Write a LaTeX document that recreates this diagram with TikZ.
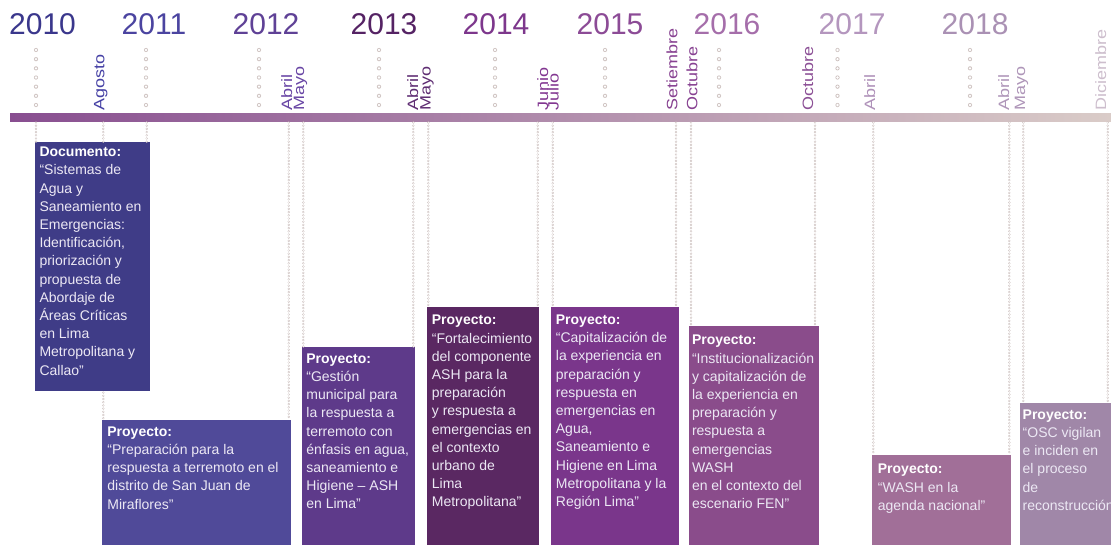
\documentclass[tikz,border=0pt]{standalone}
\usepackage{fontspec}
\setmainfont{Liberation Sans}
\usepackage{graphicx}
\definecolor{barL}{RGB}{136,78,144}
\definecolor{barM}{RGB}{168,118,168}
\definecolor{barR}{RGB}{218,204,200}
\definecolor{ringc}{RGB}{206,194,192}
\definecolor{bodytxt}{RGB}{236,232,244}
\definecolor{cb1}{RGB}{63,60,135}
\definecolor{cb2}{RGB}{80,74,153}
\definecolor{cb3}{RGB}{94,58,138}
\definecolor{cb4}{RGB}{90,40,98}
\definecolor{cb5}{RGB}{122,54,139}
\definecolor{cb6}{RGB}{138,76,139}
\definecolor{cb7}{RGB}{161,111,152}
\definecolor{cb8}{RGB}{160,135,168}
\definecolor{y10}{RGB}{58,55,140}
\definecolor{y11}{RGB}{75,68,160}
\definecolor{y12}{RGB}{95,65,150}
\definecolor{y13}{RGB}{85,35,100}
\definecolor{y14}{RGB}{125,55,140}
\definecolor{y15}{RGB}{140,75,150}
\definecolor{y16}{RGB}{165,110,170}
\definecolor{y17}{RGB}{180,150,190}
\definecolor{y18}{RGB}{170,145,180}
\definecolor{m1}{RGB}{70,65,165}
\definecolor{m2}{RGB}{105,70,165}
\definecolor{m3}{RGB}{95,45,115}
\definecolor{m4}{RGB}{130,55,145}
\definecolor{m5}{RGB}{135,65,145}
\definecolor{m6}{RGB}{140,80,150}
\definecolor{m7}{RGB}{175,145,185}
\definecolor{m8}{RGB}{175,150,185}
\definecolor{m9}{RGB}{205,190,205}
\newcommand{\mlab}[1]{\scalebox{1.2}[1]{#1}}
\begin{document}
\begin{tikzpicture}[x=1pt,y=-1pt,
  yearlab/.style={anchor=base west, inner sep=0pt, font=\fontsize{30}{30}\selectfont},
  monthlab/.style={rotate=90, anchor=base west, inner sep=0pt, font=\fontsize{15}{15}\selectfont},
  ydots/.style={draw=white, line width=2.6pt, dash pattern=on 0pt off 9.17pt, line cap=round,
     preaction={draw=ringc, line width=4.2pt, dash pattern=on 0pt off 9.17pt, line cap=round}},
  ringline/.style={draw=white, line width=1.0pt, dash pattern=on 0pt off 3.2pt, line cap=round,
     preaction={draw=ringc, line width=2.4pt, dash pattern=on 0pt off 3.2pt, line cap=round}},
  boxs/.style={anchor=north west, inner sep=0pt, draw=none},
  btxt/.style={anchor=north west, inner sep=0pt, align=left, text=bodytxt,
     font=\fontsize{14}{18.2}\selectfont}
]
\useasboundingbox (0,0) rectangle (1111,545);
\clip (0,0) rectangle (1111,545);
\fill[white] (0,0) rectangle (1111,545);

% timeline bar
\node[boxs, minimum width=1101pt, minimum height=8pt, left color=barL, middle color=barM, right color=barR] (bar) at (10,113) {};

% years
\node[yearlab, text=y10] (y2010) at (9,34.5) {2010};
\node[yearlab, text=y11] (y2011) at (121.5,34.5) {2011};
\node[yearlab, text=y12] (y2012) at (232.5,34.5) {2012};
\node[yearlab, text=y13] (y2013) at (350.5,34.5) {2013};
\node[yearlab, text=y14] (y2014) at (462.5,34.5) {2014};
\node[yearlab, text=y15] (y2015) at (576.5,34.5) {2015};
\node[yearlab, text=y16] (y2016) at (693.5,34.5) {2016};
\node[yearlab, text=y17] (y2017) at (818.5,34.5) {2017};
\node[yearlab, text=y18] (y2018) at (941.5,34.5) {2018};

% year dots
\foreach \n/\x in {d10/36, d11/146, d12/259, d13/379, d14/495, d15/605, d16/719, d17/837.5, d18/970}{
  \coordinate (\n) at (\x,50);
  \draw[ydots] (\n) -- ++(0,55.1);
}

% month labels
\node[monthlab, text=m1] (ago10) at (104.3,110.5) {\mlab{Agosto}};
\node[monthlab, text=m2] (abr12) at (292,110.5) {\mlab{Abril}};
\node[monthlab, text=m2] (may12) at (304,110.5) {\mlab{Mayo}};
\node[monthlab, text=m3] (abr13) at (418,110.5) {\mlab{Abril}};
\node[monthlab, text=m3] (may13) at (430.5,110.5) {\mlab{Mayo}};
\node[monthlab, text=m4] (jun14) at (548.2,110.5) {\mlab{Junio}};
\node[monthlab, text=m4] (jul14) at (558.7,110.5) {\mlab{Julio}};
\node[monthlab, text=m5] (set15) at (677.4,110.5) {\mlab{Setiembre}};
\node[monthlab, text=m5] (oct15) at (697.4,110.5) {\mlab{Octubre}};
\node[monthlab, text=m6] (oct16) at (813,110.5) {\mlab{Octubre}};
\node[monthlab, text=m7] (abr17) at (875,110.5) {\mlab{Abril}};
\node[monthlab, text=m8] (abr18) at (1009,110.5) {\mlab{Abril}};
\node[monthlab, text=m8] (may18) at (1025,110.5) {\mlab{Mayo}};
\node[monthlab, text=m9] (dic18) at (1106,110.5) {\mlab{Diciembre}};

% boxes
\node[boxs, fill=cb1, minimum width=115pt, minimum height=248.4pt] (b1) at (34.3,142.3) {};
\node[boxs, fill=cb2, minimum width=189pt, minimum height=130pt] (b2) at (101.7,420) {};
\node[boxs, fill=cb3, minimum width=113.3pt, minimum height=205pt] (b3) at (301.7,346.7) {};
\node[boxs, fill=cb4, minimum width=112.3pt, minimum height=245pt] (b4) at (426.7,307.3) {};
\node[boxs, fill=cb5, minimum width=127.6pt, minimum height=245pt] (b5) at (550.7,307) {};
\node[boxs, fill=cb6, minimum width=130pt, minimum height=225pt] (b6) at (688.3,326) {};
\node[boxs, fill=cb7, minimum width=139.3pt, minimum height=95pt] (b7) at (871.7,455) {};
\node[boxs, fill=cb8, minimum width=100pt, minimum height=150pt] (b8) at (1020,402.7) {};

% connectors from the bar to the boxes
\foreach \n/\x in {a1/36, a2/103.3, a3/146.7, a4/288.7, a5/303.3, a6/413.3, a7/428.3, a8/537.7,
  a9/552.7, a10/676, a11/691, a12/815, a13/873.3, a14/1009.3, a15/1023.3, a16/1107.7}{
  \coordinate (\n) at (\x,122.5);
}
\draw[ringline] (a1) -- (a1 |- b1.north);
\draw[ringline] (a2) -- (a2 |- b1.north);
\draw[ringline] (a3) -- (a3 |- b1.north);
\draw[ringline] ([yshift=-1.5pt]a2 |- b1.south) -- (a2 |- b2.north);
\draw[ringline] (a4) -- (a4 |- b2.north);
\draw[ringline] (a5) -- (a5 |- b3.north);
\draw[ringline] (a6) -- (a6 |- b3.north);
\draw[ringline] (a7) -- (a7 |- b4.north);
\draw[ringline] (a8) -- (a8 |- b4.north);
\draw[ringline] (a9) -- (a9 |- b5.north);
\draw[ringline] (a10) -- (a10 |- b5.north);
\draw[ringline] (a11) -- (a11 |- b6.north);
\draw[ringline] (a12) -- (a12 |- b6.north);
\draw[ringline] (a13) -- (a13 |- b7.north);
\draw[ringline] (a14) -- (a14 |- b7.north);
\draw[ringline] (a15) -- (a15 |- b8.north);
\draw[ringline] (a16) -- (a16 |- b8.north);

% box texts
\node[btxt] (t1) at ([xshift=5pt,yshift=-4.5pt]b1.north west) {\textcolor{white}{\bfseries Documento:}\\“Sistemas de\\Agua y\\Saneamiento en\\Emergencias:\\Identificación,\\priorización y\\propuesta de\\Abordaje de\\Áreas Críticas\\en Lima\\Metropolitana y\\Callao”};
\node[btxt] (t2) at ([xshift=5.5pt,yshift=-6.5pt]b2.north west) {\textcolor{white}{\bfseries Proyecto:}\\“Preparación para la\\respuesta a terremoto en el\\distrito de San Juan de\\Miraflores”};
\node[btxt] (t3) at ([xshift=4.5pt,yshift=-6.7pt]b3.north west) {\textcolor{white}{\bfseries Proyecto:}\\“Gestión\\municipal para\\la respuesta a\\terremoto con\\énfasis en agua,\\saneamiento e\\Higiene – ASH\\en Lima”};
\node[btxt] (t4) at ([xshift=5pt,yshift=-7.7pt]b4.north west) {\textcolor{white}{\bfseries Proyecto:}\\“Fortalecimiento\\del componente\\ASH para la\\preparación\\y respuesta a\\emergencias en\\el contexto\\urbano de\\Lima\\Metropolitana”};
\node[btxt] (t5) at ([xshift=5pt,yshift=-7.7pt]b5.north west) {\textcolor{white}{\bfseries Proyecto:}\\“Capitalización de\\la experiencia en\\preparación y\\respuesta en\\emergencias en\\Agua,\\Saneamiento e\\Higiene en Lima\\Metropolitana y la\\Región Lima”};
\node[btxt] (t6) at ([xshift=3.5pt,yshift=-9pt]b6.north west) {\textcolor{white}{\bfseries Proyecto:}\\“Institucionalización\\y capitalización de\\la experiencia en\\preparación y\\respuesta a\\emergencias\\WASH\\en el contexto del\\escenario FEN”};
\node[btxt] (t7) at ([xshift=6pt,yshift=-9pt]b7.north west) {\textcolor{white}{\bfseries Proyecto:}\\“WASH en la\\agenda nacional”};
\node[btxt] (t8) at ([xshift=2.5pt,yshift=-6.7pt]b8.north west) {\textcolor{white}{\bfseries Proyecto:}\\“OSC vigilan\\e inciden en\\el proceso\\de\\reconstrucción”};
\end{tikzpicture}
\end{document}
